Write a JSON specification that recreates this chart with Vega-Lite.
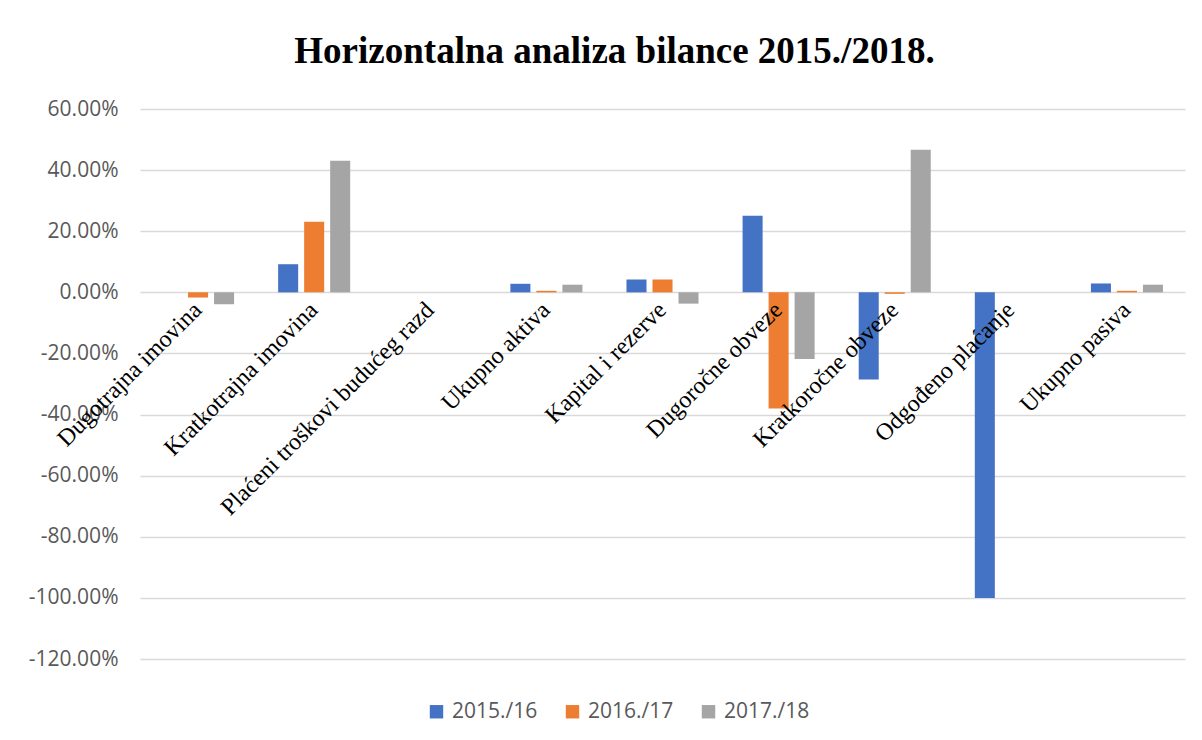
{
  "$schema": "https://vega.github.io/schema/vega-lite/v6.json",
  "width": 1045,
  "height": 550,
  "autosize": {"type": "none"},
  "padding": {"left": 140, "top": 109, "right": 17, "bottom": 81},
  "background": "white",
  "title": {
    "text": "Horizontalna analiza bilance 2015./2018.",
    "font": "Liberation Serif",
    "fontSize": 37,
    "fontWeight": "bold",
    "color": "#000000",
    "anchor": "middle",
    "dx": -48,
    "offset": 27
  },
  "data": {
    "values": [
      {"kategorija": "Dugotrajna imovina", "period": "2015./16", "vrijednost": 0},
      {"kategorija": "Dugotrajna imovina", "period": "2016./17", "vrijednost": -0.017},
      {"kategorija": "Dugotrajna imovina", "period": "2017./18", "vrijednost": -0.039},
      {"kategorija": "Kratkotrajna imovina", "period": "2015./16", "vrijednost": 0.092},
      {"kategorija": "Kratkotrajna imovina", "period": "2016./17", "vrijednost": 0.231},
      {"kategorija": "Kratkotrajna imovina", "period": "2017./18", "vrijednost": 0.431},
      {"kategorija": "Plaćeni troškovi budućeg razd", "period": "2015./16", "vrijednost": 0},
      {"kategorija": "Plaćeni troškovi budućeg razd", "period": "2016./17", "vrijednost": 0},
      {"kategorija": "Plaćeni troškovi budućeg razd", "period": "2017./18", "vrijednost": 0},
      {"kategorija": "Ukupno aktiva", "period": "2015./16", "vrijednost": 0.028},
      {"kategorija": "Ukupno aktiva", "period": "2016./17", "vrijednost": 0.005},
      {"kategorija": "Ukupno aktiva", "period": "2017./18", "vrijednost": 0.025},
      {"kategorija": "Kapital i rezerve", "period": "2015./16", "vrijednost": 0.042},
      {"kategorija": "Kapital i rezerve", "period": "2016./17", "vrijednost": 0.042},
      {"kategorija": "Kapital i rezerve", "period": "2017./18", "vrijednost": -0.037},
      {"kategorija": "Dugoročne obveze", "period": "2015./16", "vrijednost": 0.251},
      {"kategorija": "Dugoročne obveze", "period": "2016./17", "vrijednost": -0.38},
      {"kategorija": "Dugoročne obveze", "period": "2017./18", "vrijednost": -0.218},
      {"kategorija": "Kratkoročne obveze", "period": "2015./16", "vrijednost": -0.285},
      {"kategorija": "Kratkoročne obveze", "period": "2016./17", "vrijednost": -0.005},
      {"kategorija": "Kratkoročne obveze", "period": "2017./18", "vrijednost": 0.467},
      {"kategorija": "Odgođeno plaćanje", "period": "2015./16", "vrijednost": -1.0},
      {"kategorija": "Odgođeno plaćanje", "period": "2016./17", "vrijednost": 0},
      {"kategorija": "Odgođeno plaćanje", "period": "2017./18", "vrijednost": 0},
      {"kategorija": "Ukupno pasiva", "period": "2015./16", "vrijednost": 0.029},
      {"kategorija": "Ukupno pasiva", "period": "2016./17", "vrijednost": 0.005},
      {"kategorija": "Ukupno pasiva", "period": "2017./18", "vrijednost": 0.025}
    ]
  },
  "mark": {"type": "bar"},
  "encoding": {
    "x": {
      "field": "kategorija",
      "type": "nominal",
      "sort": null,
      "scale": {"paddingInner": 0.328, "paddingOuter": 0.164},
      "axis": {
        "title": null,
        "orient": "bottom",
        "offset": -367,
        "zindex": 1,
        "domain": false,
        "ticks": false,
        "grid": false,
        "labelAngle": -45,
        "labelAlign": "right",
        "labelBaseline": "middle",
        "labelPadding": 14,
        "labelFont": "Liberation Serif",
        "labelFontSize": 24,
        "labelColor": "#000000",
        "labelOverlap": false,
        "labelLimit": 0
      }
    },
    "xOffset": {
      "field": "period",
      "type": "nominal",
      "scale": {"paddingInner": 0.23, "paddingOuter": 0.115}
    },
    "y": {
      "field": "vrijednost",
      "type": "quantitative",
      "scale": {"domain": [-1.2, 0.6], "nice": false, "zero": false},
      "axis": {
        "title": null,
        "values": [-1.2, -1.0, -0.8, -0.6, -0.4, -0.2, 0, 0.2, 0.4, 0.6],
        "labelExpr": "replace(format(datum.value, '.2%'), '\u2212', '-')",
        "domain": false,
        "ticks": false,
        "grid": true,
        "gridColor": "#d9d9d9",
        "gridWidth": 1.5,
        "labelPadding": 22,
        "labelFont": "Open Sans",
        "labelFontSize": 21,
        "labelColor": "#595959"
      }
    },
    "color": {
      "field": "period",
      "type": "nominal",
      "scale": {
        "domain": ["2015./16", "2016./17", "2017./18"],
        "range": ["#4472C4", "#ED7D31", "#A5A5A5"]
      },
      "legend": {
        "title": null,
        "orient": "none",
        "direction": "horizontal",
        "legendX": 286,
        "legendY": 592,
        "symbolType": "square",
        "symbolSize": 180,
        "symbolStrokeWidth": 0,
        "labelFont": "Open Sans",
        "labelFontSize": 21,
        "labelColor": "#595959",
        "labelOffset": 5,
        "columnPadding": 24
      }
    }
  },
  "config": {
    "view": {"stroke": null}
  }
}
